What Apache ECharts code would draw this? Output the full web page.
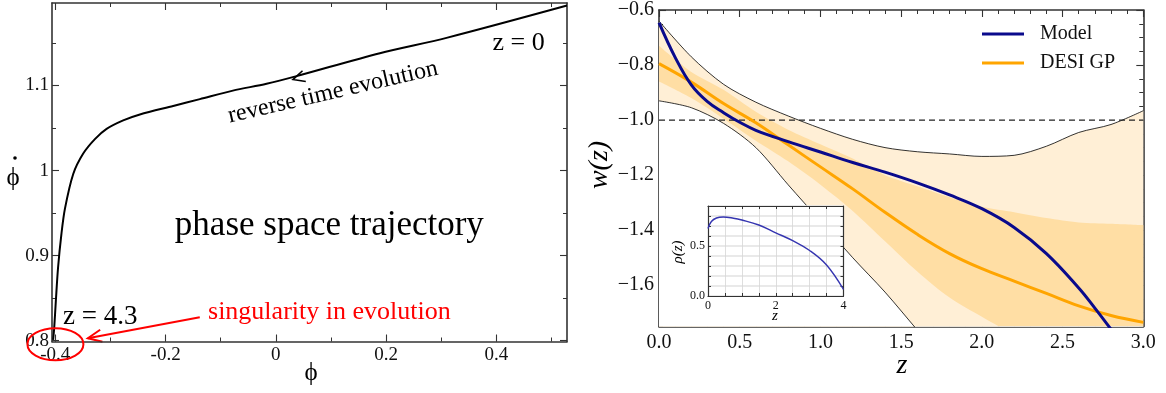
<!DOCTYPE html>
<html>
<head>
<meta charset="utf-8">
<script src="https://cdn.jsdelivr.net/npm/echarts@6/dist/echarts.min.js"></script>
</head>
<body style="margin: 0; background: #fff">
<div id="container" style="width: 1166px; height: 393px;"></div>
<script>
// ---- left panel: phase space trajectory (phi, phi dot)
const phi    = [-0.404, -0.402, -0.399, -0.395, -0.389, -0.3826, -0.3675, -0.3494, -0.3282, -0.307, -0.2769, -0.2466, -0.1862, -0.1378, -0.078, -0.0169, 0.0375, 0.1886, 0.3095, 0.528];
const phiDot = [0.801, 0.815, 0.847, 0.886, 0.925, 0.955, 0.996, 1.020, 1.037, 1.049, 1.059, 1.066, 1.076, 1.084, 1.094, 1.102, 1.111, 1.138, 1.156, 1.194];
const phiTicks = [-0.4, -0.2, 0, 0.2, 0.4];
const phiDotTicks = [0.8, 0.9, 1.0, 1.1];

// ---- right panel: w(z)
const zBand     = [0, 0.2, 0.4, 0.6, 0.8, 1.0, 1.2, 1.4, 1.6, 1.8, 2.0, 2.2, 2.4, 2.6, 2.8, 3.0];
const outerLow  = [-0.93, -0.955, -1.012, -1.10, -1.235, -1.367, -1.50, -1.625, -1.763, -1.90, -2.03, -2.15, -2.27, -2.38, -2.49, -2.6];
const outerHigh = [-0.64, -0.77, -0.87, -0.935, -0.985, -1.03, -1.07, -1.10, -1.115, -1.123, -1.132, -1.128, -1.095, -1.045, -1.016, -0.966];
const innerLow  = [-0.86, -0.92, -0.995, -1.075, -1.15, -1.235, -1.33, -1.44, -1.55, -1.645, -1.715, -1.78, -1.84, -1.90, -1.95, -2.0];
const innerHigh = [-0.73, -0.825, -0.89, -0.97, -1.035, -1.088, -1.14, -1.20, -1.24, -1.28, -1.315, -1.335, -1.356, -1.372, -1.377, -1.382];
const wGP       = [-0.795, -0.862, -0.94, -1.01, -1.09, -1.17, -1.25, -1.335, -1.415, -1.485, -1.54, -1.585, -1.63, -1.675, -1.71, -1.735];
const zModel = [0, 0.1, 0.2, 0.3, 0.4, 0.5, 0.6, 0.8, 1.0, 1.2, 1.4, 1.6, 1.8, 2.0, 2.2, 2.4, 2.6, 2.7, 2.8];
const wModel = [-0.646, -0.772, -0.872, -0.933, -0.973, -1.008, -1.037, -1.078, -1.116, -1.154, -1.189, -1.228, -1.272, -1.322, -1.39, -1.485, -1.61, -1.683, -1.76];
const wLambda = -1.0;
const zTicks = [0, 0.5, 1.0, 1.5, 2.0, 2.5, 3.0];
const wTicks = [-1.6, -1.4, -1.2, -1.0, -0.8, -0.6];

// ---- inset: rho(z)
const zRho = [0, 0.1, 0.25, 0.45, 0.75, 1.0, 1.5, 2.0, 2.5, 3.0, 3.5, 4.0];
const rho  = [0.675, 0.745, 0.78, 0.79, 0.778, 0.76, 0.71, 0.632, 0.553, 0.455, 0.31, 0.065];

const serif = 'Liberation Serif';
const axisColor = '#333';

function steps(a, b, d) {
  const out = [];
  for (let v = a; v <= b + 1e-9; v += d) out.push(Math.round(v * 1000) / 1000);
  return out;
}
const zip = (xs, ys) => xs.map((x, i) => [x, ys[i]]);

// one axis with line, long ticks and (optionally) labels, plus one overlay with short ticks
function axisSet(gridIndex, position, min, max, majors, minors, label) {
  const main = {
    type: 'value', gridIndex: gridIndex, position: position, min: min, max: max,
    axisLine: { show: true, onZero: false, lineStyle: { color: axisColor, width: 1.6 } },
    axisTick: { show: true, inside: true, length: 7, customValues: majors, lineStyle: { color: axisColor, width: 1.1 } },
    axisLabel: label ? Object.assign({ customValues: majors, fontFamily: serif, color: '#111' }, label) : { show: false },
    splitLine: { show: false }
  };
  const minor = {
    type: 'value', gridIndex: gridIndex, position: position, min: min, max: max,
    axisLine: { show: false, onZero: false },
    axisTick: { show: true, inside: true, length: 4, customValues: minors, lineStyle: { color: axisColor, width: 1 } },
    axisLabel: { show: false },
    splitLine: { show: false }
  };
  return [main, minor];
}

const minus = v => (v < 0 ? '\u2212' : '') + Math.abs(v).toFixed(1);
const xmgr = v => (Math.abs(v) < 1e-9 ? '0' : Math.abs(v - 1) < 1e-9 ? '1' : v.toFixed(1));

const phiMin = -0.406, phiMax = 0.528, pdMin = 0.799, pdMax = 1.197;
const xAxes = [].concat(
  axisSet(0, 'bottom', phiMin, phiMax, phiTicks, steps(-0.4, 0.5, 0.1), { fontSize: 19, margin: 4, formatter: xmgr }),
  axisSet(0, 'top', phiMin, phiMax, phiTicks, steps(-0.4, 0.5, 0.1), null),
  axisSet(1, 'bottom', 0, 3, zTicks, steps(0, 3, 0.1), { fontSize: 20, margin: 6, formatter: v => v.toFixed(1) }),
  axisSet(1, 'top', 0, 3, zTicks, steps(0, 3, 0.1), null)
);
const yAxes = [].concat(
  axisSet(0, 'left', pdMin, pdMax, phiDotTicks, steps(0.8, 1.15, 0.05), { fontSize: 19, margin: 3, formatter: xmgr }),
  axisSet(0, 'right', pdMin, pdMax, phiDotTicks, steps(0.8, 1.15, 0.05), null),
  axisSet(1, 'left', -1.75, -0.6, wTicks, steps(-1.75, -0.6, 0.05), { fontSize: 20, margin: 5, formatter: minus }),
  axisSet(1, 'right', -1.75, -0.6, wTicks, steps(-1.75, -0.6, 0.05), null)
);

// inset axes
const insetLine = { show: true, onZero: false, lineStyle: { color: axisColor, width: 1.2 } };
const insetTick = { show: true, inside: true, length: 3, lineStyle: { color: axisColor } };
xAxes.push({
  type: 'value', gridIndex: 2, position: 'bottom', min: 0, max: 4, interval: 0.5, z: 6,
  axisLine: insetLine, axisTick: insetTick,
  axisLabel: { fontFamily: serif, fontSize: 12, color: '#111', margin: 4, formatter: v => (Math.abs(v % 2) < 1e-9 ? String(v) : '') },
  splitLine: { show: true, lineStyle: { color: '#d6d6d6', width: 0.8 } }
}, {
  type: 'value', gridIndex: 2, position: 'top', min: 0, max: 4, interval: 0.5, z: 6,
  axisLine: insetLine, axisTick: insetTick, axisLabel: { show: false }, splitLine: { show: false }
});
yAxes.push({
  type: 'value', gridIndex: 2, position: 'left', min: 0, max: 0.9, interval: 0.1, z: 6,
  axisLine: insetLine, axisTick: insetTick,
  axisLabel: { fontFamily: serif, fontSize: 12, color: '#111', margin: 3,
    formatter: v => (Math.abs(v) < 1e-9 || Math.abs(v - 0.5) < 1e-9 ? v.toFixed(1) : '') },
  splitLine: { show: true, lineStyle: { color: '#e2e2e2', width: 1.5 } }
}, {
  type: 'value', gridIndex: 2, position: 'right', min: 0, max: 0.9, interval: 0.1, z: 6,
  axisLine: insetLine, axisTick: insetTick, axisLabel: { show: false }, splitLine: { show: false }
});

const RX = 4, RY = 4; // right panel main axes index
const bandLine = { color: '#000', width: 0.8 };
const noLine = { opacity: 0, width: 0 };
const outerColor = '#FFEFD6', innerColor = '#FFDEA4';

// bands are painted as layered areas filled down to the axis start
function bandEdge(values, fill, line) {
  return {
    type: 'line', xAxisIndex: RX, yAxisIndex: RY, data: zip(zBand, values),
    smooth: 0.3, symbol: 'none', lineStyle: line,
    areaStyle: { color: fill, opacity: 1, origin: 'start' }
  };
}

const option = {
  animation: false,
  backgroundColor: '#fff',
  grid: [
    { left: 52, top: 3, width: 515, height: 338.5 },
    { left: 659, top: 7, width: 484.3, height: 319.5 },
    { left: 708, top: 206, width: 135.5, height: 90, show: true, backgroundColor: '#fff', borderWidth: 0, z: 5 }
  ],
  xAxis: xAxes,
  yAxis: yAxes,
  legend: {
    data: ['Model', 'DESI GP'],
    orient: 'vertical', left: 977, top: 19,
    icon: 'rect', itemWidth: 42, itemHeight: 3, itemGap: 9,
    textStyle: { fontFamily: serif, fontSize: 20, color: '#111', padding: [0, 0, 0, 11] }
  },
  series: [
    {
      type: 'line', xAxisIndex: 0, yAxisIndex: 0, data: zip(phi, phiDot),
      smooth: 0.3, symbol: 'none', lineStyle: { color: '#000', width: 2 }
    },
    bandEdge(outerHigh, outerColor, bandLine),
    bandEdge(innerHigh, innerColor, noLine),
    bandEdge(innerLow, outerColor, noLine),
    bandEdge(outerLow, '#ffffff', bandLine),
    {
      type: 'line', xAxisIndex: RX, yAxisIndex: RY, data: [[0, wLambda], [3, wLambda]],
      symbol: 'none', lineStyle: { color: '#222', width: 1.3, type: [6, 4] }
    },
    {
      name: 'DESI GP', type: 'line', xAxisIndex: RX, yAxisIndex: RY, data: zip(zBand, wGP),
      smooth: 0.4, symbol: 'none', itemStyle: { color: '#FFA500' }, lineStyle: { color: '#FFA500', width: 3 }
    },
    {
      name: 'Model', type: 'line', xAxisIndex: RX, yAxisIndex: RY, data: zip(zModel, wModel),
      smooth: 0.4, symbol: 'none', itemStyle: { color: '#0A0A8C' }, lineStyle: { color: '#0A0A8C', width: 3 }
    },
    // inset
    {
      type: 'line', xAxisIndex: 8, yAxisIndex: 8, data: zip(zRho, rho), z: 7,
      smooth: 0.4, symbol: 'none', lineStyle: { color: '#3535B0', width: 1.4 }
    }
  ]
};

const chart = echarts.init(document.getElementById('container'));
chart.setOption(option);

// annotations of the left panel, placed in data coordinates
const px = p => chart.convertToPixel({ gridIndex: 0 }, p);
function vHead(tip, from, len, ang) {
  const dx = from[0] - tip[0], dy = from[1] - tip[1], L = Math.hypot(dx, dy);
  const ux = dx / L, uy = dy / L, c = Math.cos(ang), s = Math.sin(ang);
  return [
    [tip[0] + len * (ux * c - uy * s), tip[1] + len * (ux * s + uy * c)],
    tip,
    [tip[0] + len * (ux * c + uy * s), tip[1] + len * (-ux * s + uy * c)]
  ];
}
function label(text, at, size, extra) {
  return Object.assign({
    type: 'text', x: at[0], y: at[1],
    style: Object.assign({ text: text, fontFamily: serif, fontSize: size, fill: '#000',
      align: 'center', verticalAlign: 'middle', textAlign: 'center', textVerticalAlign: 'middle' }, extra && extra.style)
  }, extra && extra.el);
}

const arrowTip = px([0.031, 1.107]);
const arrowBack = px([0.1886, 1.138]);
const redFrom = px([-0.138, 0.8276]);
const redTo = px([-0.341, 0.8028]);
const ring = px([-0.3998, 0.7957]);

chart.setOption({
  graphic: [
    label('z = 0', px([0.393, 1.150]), 26, { style: { align: 'left', textAlign: 'left' } }),
    label('reverse time evolution', px([0.1034, 1.092]), 24, { el: { rotation: 13 * Math.PI / 180 } }),
    label('phase space trajectory', px([0.097, 0.935]), 35),
    label('z = 4.3', px([-0.386, 0.8276]), 27, { style: { align: 'left', textAlign: 'left' } }),
    label('singularity in evolution', px([0.097, 0.8335]), 26, { style: { fill: '#ff0000' } }),
    { type: 'polyline', shape: { points: vHead(arrowTip, arrowBack, 13, 0.45) }, style: { stroke: '#000', lineWidth: 1.6, fill: null } },
    { type: 'polyline', shape: { points: [redFrom, redTo] }, style: { stroke: '#ff0000', lineWidth: 2, fill: null } },
    { type: 'polyline', shape: { points: vHead(redTo, redFrom, 15, 0.42) }, style: { stroke: '#ff0000', lineWidth: 2, fill: null } },
    { type: 'ellipse', shape: { cx: ring[0], cy: ring[1], rx: 28, ry: 16 }, style: { stroke: '#ff0000', lineWidth: 2, fill: null }, z: 10 },
    // axis titles
    label('\u03d5', [311, 373], 25),
    label('\u03d5', [13, 178], 25),
    { type: 'circle', shape: { cx: 15, cy: 158, r: 1.8 }, style: { fill: '#000' } },
    label('w(z)', [600, 165], 28, { style: { fontStyle: 'italic' }, el: { rotation: Math.PI / 2 } }),
    label('z', [902, 366], 28, { style: { fontStyle: 'italic' } }),
    label('\u03c1(z)', [678, 252], 15, { style: { fontStyle: 'italic' }, el: { rotation: Math.PI / 2, z: 8 } }),
    label('z', [775, 316], 15, { style: { fontStyle: 'italic' }, el: { z: 8 } })
  ]
});
</script>
</body>
</html>
